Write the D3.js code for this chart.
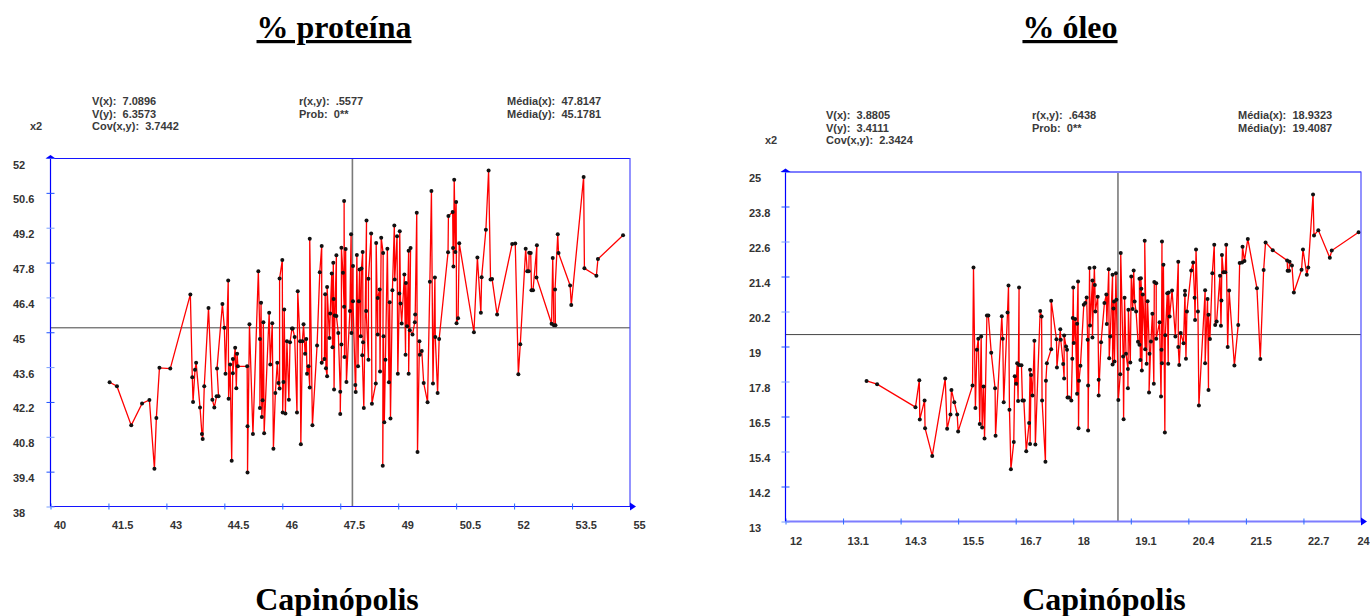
<!DOCTYPE html>
<html>
<head>
<meta charset="utf-8">
<title>Capinópolis</title>
<script src="https://cdn.jsdelivr.net/npm/d3@7"></script>
<style>
  html, body { margin: 0; padding: 0; background: #fff; overflow: hidden; }
  svg { display: block; }
  text { font-family: "Liberation Sans", Arial, sans-serif; }
  .title { font-family: "Liberation Serif", "Times New Roman", serif; font-weight: bold; font-size: 32px; fill: #000; text-anchor: middle; }
  .stat { font-size: 11px; font-weight: bold; fill: #3a3a3a; white-space: pre; }
  .tick text { font-size: 11px; font-weight: bold; fill: #333; font-family: "Liberation Sans", Arial, sans-serif; }
</style>
</head>
<body>
<svg id="chart" width="1370" height="616"></svg>
<script>
const proteinX = [41.53,41.72,42.09,42.37,42.56,42.69,42.74,42.82,43.10,43.62,43.67,43.69,43.74,43.77,43.87,43.92,43.94,43.98,44.09,44.19,44.24,44.30,44.35,44.31,44.45,44.50,44.53,44.60,44.61,44.65,44.69,44.72,44.72,44.78,44.81,44.83,44.85,45.09,45.10,45.10,45.15,45.24,45.38,45.42,45.42,45.45,45.47,45.49,45.51,45.53,45.66,45.69,45.74,45.77,45.82,45.87,45.90,45.93,45.93,46.00,46.01,46.03,46.05,46.08,46.12,46.17,46.20,46.25,46.27,46.32,46.38,46.40,46.46,46.48,46.52,46.55,46.59,46.62,46.64,46.68,46.71,46.71,46.78,46.90,46.97,47.02,47.02,47.09,47.11,47.13,47.16,47.16,47.22,47.24,47.28,47.30,47.32,47.33,47.34,47.36,47.40,47.40,47.45,47.50,47.50,47.53,47.53,47.57,47.60,47.60,47.61,47.64,47.66,47.75,47.78,47.79,47.83,47.83,47.89,47.90,47.93,47.96,47.98,48.00,48.03,48.05,48.08,48.09,48.07,48.11,48.18,48.17,48.23,48.23,48.30,48.32,48.42,48.43,48.47,48.47,48.52,48.53,48.56,48.61,48.60,48.62,48.64,48.67,48.72,48.76,48.78,48.80,48.85,48.90,48.91,48.97,48.99,49.03,49.04,49.06,49.09,49.16,49.19,49.20,49.23,49.27,49.27,49.32,49.30,49.37,49.43,49.44,49.48,49.50,49.55,49.56,49.61,49.66,49.76,49.82,49.86,49.90,49.95,49.96,50.02,50.06,50.29,50.30,50.41,50.42,50.43,50.45,50.48,50.50,50.51,50.55,50.58,50.96,51.05,51.14,51.16,51.27,51.34,51.39,51.43,51.56,51.95,52.03,52.11,52.16,52.30,52.34,52.38,52.39,52.43,52.45,52.49,52.59,52.58,52.97,53.00,53.03,53.07,53.06,53.13,53.15,53.45,53.48,53.80,53.82,54.13,54.17,54.82];
const proteinY = [42.99,42.83,41.26,42.14,42.28,39.52,41.56,43.57,43.54,46.52,43.19,42.20,43.49,43.77,41.98,40.91,40.71,42.83,45.97,42.29,41.98,42.43,42.43,43.54,46.13,45.18,43.33,47.08,42.33,43.70,39.84,43.93,43.35,44.38,42.75,44.14,43.63,43.63,41.22,39.37,45.32,40.91,47.45,44.73,41.96,46.19,41.60,42.27,45.40,40.94,45.78,43.70,45.36,40.32,42.56,43.77,42.96,42.74,47.16,47.90,41.78,43.00,45.91,41.74,44.64,42.29,44.60,45.15,45.15,44.81,41.78,46.65,44.64,40.50,44.64,45.32,44.14,44.73,43.33,43.63,42.78,48.76,41.26,44.47,47.41,48.46,43.77,43.93,46.53,43.55,43.23,46.82,44.77,45.75,47.36,44.40,47.79,46.34,42.70,45.67,48.09,45.65,44.97,42.61,41.72,44.51,48.39,47.39,46.02,50.27,44.01,48.34,43.00,45.85,48.94,44.97,47.66,46.25,42.88,42.60,48.10,43.63,46.25,47.52,44.84,47.56,48.22,44.60,44.08,41.96,49.49,45.85,43.90,47.15,48.97,42.13,42.94,48.59,44.91,46.38,46.72,43.42,48.80,48.18,39.64,44.84,41.38,43.90,48.35,42.99,46.21,41.54,46.69,49.29,47.12,48.86,43.33,46.56,49.06,46.15,45.35,47.32,44.10,46.98,45.24,48.27,43.33,48.38,45.08,44.91,45.40,45.71,49.80,40.19,44.64,44.10,44.25,42.96,42.19,47.03,50.67,42.94,47.20,44.81,42.56,44.73,48.21,49.67,49.83,48.38,47.64,51.13,48.22,50.23,45.36,45.56,48.58,45.00,48.00,45.78,47.21,49.12,51.50,47.12,47.14,45.71,48.55,48.57,43.31,44.52,48.35,47.45,47.45,48.19,48.18,46.69,46.69,48.49,47.20,45.34,47.98,45.28,45.28,46.72,48.94,48.18,46.88,46.09,51.24,47.57,47.27,47.94,48.90];

const oilX = [13.69,13.91,14.71,14.79,14.80,14.90,14.91,15.06,15.33,15.37,15.44,15.46,15.52,15.58,15.60,15.90,15.92,15.96,15.99,16.02,16.05,16.08,16.10,16.13,16.15,16.20,16.23,16.29,16.37,16.38,16.51,16.53,16.55,16.63,16.65,16.67,16.70,16.76,16.78,16.81,16.83,16.85,16.87,16.87,16.92,16.94,16.97,17.02,17.08,17.10,17.10,17.12,17.15,17.19,17.21,17.31,17.34,17.35,17.42,17.43,17.45,17.54,17.54,17.65,17.66,17.73,17.74,17.79,17.81,17.81,17.85,17.87,17.88,17.91,17.96,17.98,17.99,18.00,18.01,18.04,18.08,18.08,18.10,18.11,18.12,18.15,18.22,18.25,18.28,18.30,18.31,18.31,18.34,18.35,18.40,18.40,18.44,18.45,18.46,18.51,18.53,18.53,18.58,18.65,18.69,18.70,18.74,18.75,18.77,18.82,18.82,18.85,18.84,18.86,18.89,18.90,18.94,18.98,18.99,19.04,19.05,19.07,19.10,19.14,19.14,19.15,19.19,19.21,19.24,19.26,19.28,19.31,19.35,19.38,19.38,19.40,19.41,19.42,19.43,19.45,19.50,19.49,19.53,19.55,19.59,19.58,19.62,19.65,19.68,19.69,19.73,19.73,19.80,19.83,19.84,19.85,19.85,19.88,19.91,19.92,19.96,19.98,19.99,20.01,20.06,20.13,20.19,20.19,20.21,20.24,20.30,20.33,20.33,20.35,20.37,20.46,20.50,20.53,20.54,20.56,20.60,20.62,20.75,20.75,20.80,20.82,20.82,20.85,20.90,20.94,20.96,20.99,21.06,21.08,21.09,21.10,21.13,21.17,21.19,21.22,21.25,21.36,21.44,21.47,21.52,21.53,21.57,21.64,21.83,21.90,21.97,22.01,22.16,22.46,22.47,22.50,22.51,22.56,22.60,22.76,22.79,22.87,22.90,23.00,23.02,23.11,23.35,23.39,23.95];
const oilY = [17.82,17.71,16.92,17.84,16.50,17.15,16.20,15.25,17.90,16.18,16.67,17.51,17.09,16.67,16.09,17.66,21.71,16.89,18.89,19.27,16.34,19.34,16.22,17.63,15.85,20.06,20.06,18.79,17.57,15.94,20.04,19.27,17.09,20.17,21.09,16.83,14.79,15.73,17.98,17.72,18.43,17.13,21.02,18.37,18.36,17.15,17.15,15.41,16.38,18.20,15.66,18.02,17.32,19.20,15.64,20.22,20.03,17.15,15.05,17.83,18.43,18.91,20.57,19.25,18.28,19.59,19.23,18.40,17.90,19.38,19.00,18.89,17.25,17.25,17.15,18.58,19.98,21.02,19.12,19.94,17.38,19.78,21.23,16.20,17.83,18.34,20.43,20.49,20.68,19.23,17.66,16.12,21.69,19.72,21.26,19.31,21.71,21.11,20.20,20.71,17.86,17.32,19.15,20.49,20.78,19.77,21.65,18.60,19.34,21.46,18.38,20.54,20.30,18.49,21.51,20.60,17.17,18.05,22.21,18.66,16.51,20.67,18.75,18.23,17.57,20.26,18.45,21.40,20.29,21.61,20.54,20.20,19.16,19.06,21.32,18.54,21.34,20.98,18.18,20.78,18.91,22.63,18.41,20.55,18.75,17.42,19.17,20.12,17.72,21.21,21.17,19.27,19.83,17.29,18.89,22.60,18.43,21.80,16.05,19.39,20.83,18.41,20.85,20.03,20.92,19.34,21.91,18.98,18.37,19.46,19.11,20.91,20.77,18.58,20.20,21.61,21.88,20.67,19.91,22.33,20.20,16.98,20.93,18.43,20.63,17.51,20.09,19.26,21.51,22.49,19.74,19.86,21.43,19.71,20.58,22.14,21.55,21.55,22.49,18.98,20.92,18.35,19.74,21.86,21.88,22.42,21.93,22.69,21.00,18.57,21.62,22.57,22.30,21.95,21.60,21.60,21.91,21.78,20.85,21.63,22.33,21.46,21.71,24.21,22.81,22.99,22.04,22.29,22.92];

const proteinXTicks = ["40","41.5","43","44.5","46","47.5","49","50.5","52","53.5","55"];
const proteinYTicks = ["38","39.4","40.8","42.2","43.6","45","46.4","47.8","49.2","50.6","52"];
const oilXTicks = ["12","13.1","14.3","15.5","16.7","18","19.1","20.4","21.5","22.7","24"];
const oilYTicks = ["13","14.2","15.4","16.5","17.8","19","20.2","21.4","22.6","23.8","25"];

const proteinStats = ["V(x):  7.0896","V(y):  6.3573","Cov(x,y):  3.7442","r(x,y):  .5577","Prob:  0**","Média(x):  47.8147","Média(y):  45.1781"];
const oilStats = ["V(x):  3.8805","V(y):  3.4111","Cov(x,y):  2.3424","r(x,y):  .6438","Prob:  0**","Média(x):  18.9323","Média(y):  19.4087"];

const svg = d3.select("#chart");

function drawPanel(p) {
  const g = svg.append("g");
  const x = d3.scaleLinear().domain(p.xDomain).range([p.left, p.right]);
  const y = d3.scaleLinear().domain(p.yDomain).range([p.bottom, p.top]);

  //i tick sono equidistanti, le etichette arrivano troncate dal programma originale
  const xStep = (p.xDomain[1] - p.xDomain[0]) / (p.xTicks.length - 1);
  const yStep = (p.yDomain[1] - p.yDomain[0]) / (p.yTicks.length - 1);
  const xVals = p.xTicks.map((d, i) => p.xDomain[0] + i * xStep);
  const yVals = p.yTicks.map((d, i) => p.yDomain[0] + i * yStep);

  g.append("line").attr("x1", x(p.meanX)).attr("x2", x(p.meanX))
    .attr("y1", p.top).attr("y2", p.bottom)
    .attr("stroke", "#7a7a7a").attr("stroke-width", 1.6);
  g.append("line").attr("x1", p.left).attr("x2", p.right)
    .attr("y1", y(p.meanY)).attr("y2", y(p.meanY))
    .attr("stroke", "#444").attr("stroke-width", 1);

  g.append("path")
    .attr("d", d3.line().x(d => x(d[0])).y(d => y(d[1]))(d3.zip(p.xs, p.ys)))
    .attr("fill", "none").attr("stroke", "#ff0000").attr("stroke-width", 1.3);

  g.selectAll("circle").data(d3.zip(p.xs, p.ys)).join("circle")
    .attr("cx", d => x(d[0])).attr("cy", d => y(d[1]))
    .attr("r", 2).attr("fill", "#111");

  // cornice
  g.append("line").attr("x1", p.left).attr("x2", p.right).attr("y1", p.top + 0.5).attr("y2", p.top + 0.5)
    .attr("stroke", p.hColor).attr("stroke-width", p.hWidth);
  g.append("line").attr("x1", p.right).attr("x2", p.right).attr("y1", p.top).attr("y2", p.bottom)
    .attr("stroke", "#4a4aff").attr("stroke-width", 1.2);

  const xAxis = g.append("g").attr("transform", `translate(0,${p.bottom})`)
    .call(d3.axisBottom(x).tickValues(xVals).tickSize(3).tickFormat((d, i) => p.xTicks[i]));
  const yAxis = g.append("g").attr("transform", `translate(${p.left},0)`)
    .call(d3.axisLeft(y).tickValues(yVals).tickSize(4).tickFormat((d, i) => p.yTicks[i]));

  xAxis.select(".domain").attr("stroke", p.hColor).attr("stroke-width", p.hWidth).attr("d", `M${p.left},0H${p.right}`);
  yAxis.select(".domain").attr("stroke", "#0000ff").attr("stroke-width", 1.2).attr("d", `M0,${p.bottom}V${p.top}`);
  xAxis.selectAll(".tick line").attr("y1", -3).attr("y2", 3).attr("stroke", "#2a6cff");
  yAxis.selectAll(".tick line").attr("x1", -4).attr("x2", 4).attr("stroke", (d, i) => i % 2 ? "#1a50ff" : "#7aa0ff");

  xAxis.selectAll(".tick text").attr("text-anchor", "start").attr("x", p.xLabelDx).attr("y", p.xLabelY - p.bottom).attr("dy", 0);
  yAxis.selectAll(".tick text").attr("text-anchor", "start").attr("x", p.yLabelX - p.left).attr("dy", 10).attr("y", 0);

  // l'ultima etichetta non deve uscire dalla pagina
  if (p.lastLabelDx !== undefined) {
    xAxis.selectAll(".tick:last-of-type text").attr("x", p.lastLabelDx);
  }

  // frecce in cima all'asse y e in fondo all'asse x
  g.append("path").attr("fill", "#0000ff")
    .attr("d", `M${p.left - 5},${p.top + 0.5}L${p.left},${p.top - 3}L${p.left + 5},${p.top + 0.5}Z`);
  g.append("path").attr("fill", "#0000ff")
    .attr("d", `M${p.right},${p.bottom - 4}L${p.right + 6},${p.bottom}L${p.right},${p.bottom + 4}Z`);

  const s = p.stats;
  const rows = [
    [s[0], p.statX[0], p.statY[0]], [s[1], p.statX[0], p.statY[1]], [s[2], p.statX[0], p.statY[2]],
    [s[3], p.statX[1], p.statY[0]], [s[4], p.statX[1], p.statY[1]],
    [s[5], p.statX[2], p.statY[0]], [s[6], p.statX[2], p.statY[1]],
    ["x2", p.x2Pos, p.statY[2]]
  ];
  rows.forEach(r => {
    g.append("text").attr("class", "stat").attr("x", r[1]).attr("y", r[2]).text(r[0]);
  });

  g.append("text").attr("class", "title").attr("x", p.titleX).attr("y", 38)
    .attr("text-decoration", "underline").text(p.title);
  g.append("text").attr("class", "title").attr("x", p.placeX).attr("y", 610).text("Capinópolis");
}

drawPanel({
  title: "% proteína", titleX: 334, placeX: 337,
  xs: proteinX, ys: proteinY, xTicks: proteinXTicks, yTicks: proteinYTicks, stats: proteinStats,
  xDomain: [40, 55], yDomain: [38, 52], meanX: 47.8147, meanY: 45.1781,
  left: 50.5, right: 630, top: 158, bottom: 506.5,
  hColor: "#1414ff", hWidth: 1.2,
  xLabelDx: 3, xLabelY: 529, yLabelX: 13,
  statX: [92, 299, 507], statY: [105, 118, 130], x2Pos: 30
});

drawPanel({
  title: "% óleo", titleX: 1070, placeX: 1104,
  xs: oilX, ys: oilY, xTicks: oilXTicks, yTicks: oilYTicks, stats: oilStats,
  xDomain: [12, 24], yDomain: [13, 25], meanX: 18.9323, meanY: 19.4087,
  left: 785.5, right: 1361, top: 171.5, bottom: 521.5,
  hColor: "#7d7dff", hWidth: 2,
  xLabelDx: 4, xLabelY: 545, yLabelX: 749, lastLabelDx: -4,
  statX: [826, 1032, 1238], statY: [119, 132, 144], x2Pos: 765
});
</script>
</body>
</html>
